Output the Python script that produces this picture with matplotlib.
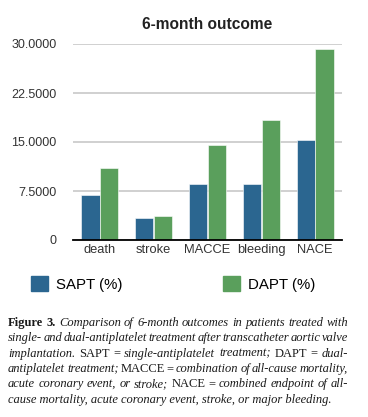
# -*- coding: utf-8 -*-
import matplotlib
matplotlib.use('Agg')
import matplotlib.pyplot as plt
from matplotlib.patches import Patch
from matplotlib.ticker import FuncFormatter, FixedLocator
import numpy as np

# Datos
categorias = ['death', 'stroke', 'MACCE', 'bleeding', 'NACE']
sapt = [6.9, 3.4, 8.6, 8.6, 15.3]
dapt = [11.0, 3.7, 14.5, 18.3, 29.2]
yticks = [0, 7.5, 15, 22.5, 30]
series = ['SAPT (%)', 'DAPT (%)']

caption = [
    "Figure 3. Comparison of 6-month outcomes in patients treated with",
    "single- and dual-antiplatelet treatment after transcatheter aortic valve",
    "implantation. SAPT = single-antiplatelet treatment; DAPT = dual-",
    "antiplatelet treatment; MACCE = combination of all-cause mortality,",
    "acute coronary event, or stroke; NACE = combined endpoint of all-",
    "cause mortality, acute coronary event, stroke, or major bleeding.",
]
upright = {'SAPT', 'DAPT', 'MACCE', 'NACE', '='}

azul = '#2b6690'
verde = '#5a9f5c'
sans = ['Liberation Sans', 'DejaVu Sans']
serif = ['Liberation Serif', 'DejaVu Serif']

W, H = 368, 417
fig = plt.figure(figsize=(W / 100, H / 100), dpi=100)
ax = fig.add_axes([73 / W, 1 - 240 / H, (342 - 73) / W, (240 - 44) / H])

x = np.arange(len(categorias))
ancho = 0.34
ax.bar(x - 0.175, sapt, ancho, color=azul, edgecolor='white', linewidth=0.4, zorder=3)
ax.bar(x + 0.175, dapt, ancho, color=verde, edgecolor='white', linewidth=0.4, zorder=3)

ax.set_xlim(-0.5, 4.5)
ax.set_ylim(0, 30)
ax.yaxis.set_major_locator(FixedLocator(yticks))
ax.yaxis.set_major_formatter(FuncFormatter(lambda v, p: '0' if v == 0 else '%.4f' % v))
ax.set_xticks(x)
ax.set_xticklabels(categorias)
for lab in ax.get_yticklabels():
    lab.set_fontfamily(sans)
    lab.set_fontsize(9)
    lab.set_color('#333333')
for lab in ax.get_xticklabels():
    lab.set_fontfamily(sans)
    lab.set_fontsize(9.3)
    lab.set_color('#333333')
ax.tick_params(axis='y', length=0, pad=12)
ax.tick_params(axis='x', length=0, pad=3)
ax.grid(axis='y', color='#c4c4c4', linewidth=1.1, zorder=0)
for s in ['top', 'right', 'left']:
    ax.spines[s].set_visible(False)
ax.spines['bottom'].set_color('black')
ax.spines['bottom'].set_linewidth(1.3)
ax.spines['bottom'].set_zorder(4)

ax.set_title('6-month outcome', fontsize=11.2, fontweight='bold', family=sans,
             color='#222222', pad=11)

# Leyenda
handles = [Patch(color=azul), Patch(color=verde)]
fig.legend(handles, series, loc='center left', bbox_to_anchor=(31 / W, 1 - 284 / H),
           ncol=2, frameon=False, prop={'family': sans, 'size': 10.8},
           handlelength=1.13, handleheight=1.13, handletextpad=0.55,
           columnspacing=6.7, borderpad=0, borderaxespad=0)

# Pie de figura justificado (la última línea va sin justificar)
fig.canvas.draw()
rend = fig.canvas.get_renderer()
izq, der = 8, 348
y0, paso = 323, 15.3
fs = 9.0

for i, linea in enumerate(caption):
    yy = 1 - (y0 + i * paso) / H
    if i == len(caption) - 1:
        fig.text(izq / W, yy, linea, fontsize=fs, family=serif, fontstyle='italic',
                 color='#1a1a1a', va='center', ha='left')
        continue
    palabras = linea.split(' ')
    objetos = []
    for j, w in enumerate(palabras):
        if i == 0 and j < 2:
            kw = dict(fontweight='bold', fontstyle='normal')
        elif w in upright:
            kw = dict(fontstyle='normal')
        else:
            kw = dict(fontstyle='italic')
        t = fig.text(0, yy, w, fontsize=fs, family=serif,
                     color='#1a1a1a', va='center', ha='left', **kw)
        objetos.append(t)
    anchos = [t.get_window_extent(rend).width for t in objetos]
    hueco = max((der - izq - sum(anchos)) / (len(objetos) - 1), 1.5)
    pos = izq
    for t, a in zip(objetos, anchos):
        t.set_x(pos / W)
        pos += a + hueco

fig.savefig('out.png', dpi=100)
